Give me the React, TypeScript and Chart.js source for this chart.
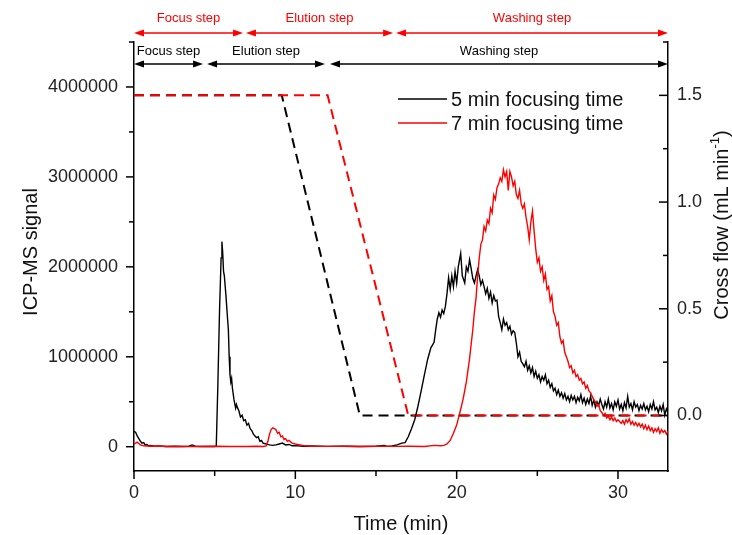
import React, { useEffect, useRef } from 'react';
import { Chart, registerables } from 'chart.js';

Chart.register(...registerables);

// ---------- DATA ----------
// ICP-MS signal, 5 min focusing time (time in min, signal in thousands of counts)
const sig5T = [0, 0.1, 0.2, 0.3, 0.4, 0.5, 0.6, 0.7, 0.8, 0.9, 1.0, 1.3, 1.6, 2.0, 2.5, 3.0, 3.4, 3.6, 3.8, 4.2, 4.6, 5.0,
  5.1, 5.2, 5.3, 5.4, 5.45, 5.5, 5.55, 5.6, 5.7, 5.8, 5.85, 5.9, 5.95, 6.0, 6.05, 6.1, 6.2, 6.3, 6.35, 6.4, 6.5, 6.6, 6.7, 6.8, 6.9,
  7.0, 7.1, 7.2, 7.3, 7.4, 7.5, 7.6, 7.7, 7.8, 7.9, 8.0, 8.2, 8.4, 8.6, 8.8, 9.0, 9.2, 9.4, 9.6, 9.8, 10.0, 10.5, 11, 12, 13, 14,
  15, 15.5, 15.7, 16.0, 16.3, 16.6, 16.8, 17.0, 17.2, 17.4, 17.6, 17.8, 18.0, 18.2, 18.4, 18.6, 18.7, 18.8, 18.9, 19.0, 19.1, 19.2,
  19.3, 19.4, 19.5, 19.6, 19.7, 19.8, 19.9, 20.0, 20.1, 20.25, 20.35, 20.5, 20.6, 20.7, 20.8, 20.9, 21.0, 21.1, 21.2, 21.3, 21.4,
  21.5, 21.6, 21.7, 21.8, 21.9, 22.0, 22.1, 22.2, 22.3, 22.4, 22.5, 22.6, 22.7, 22.8, 22.9, 23.0, 23.1, 23.2, 23.3, 23.4, 23.5,
  23.6, 23.7, 23.8, 23.9, 24.0, 24.1, 24.2, 24.3, 24.4, 24.5, 24.6, 24.7, 24.8, 24.9, 25.0, 25.1, 25.2, 25.3, 25.4, 25.5, 25.6,
  25.7, 25.8, 25.9, 26.0, 26.1, 26.2, 26.3, 26.4, 26.5, 26.6, 26.7, 26.8, 26.9, 27.0, 27.1, 27.2, 27.3, 27.4, 27.5, 27.6, 27.7,
  27.8, 27.9, 28.0, 28.1, 28.2, 28.3, 28.4, 28.5, 28.6, 28.7, 28.8, 28.9, 29.0, 29.1, 29.2, 29.3, 29.4, 29.5, 29.6, 29.7, 29.8,
  29.9, 30.0, 30.1, 30.2, 30.3, 30.4, 30.5, 30.6, 30.7, 30.8, 30.9, 31.0, 31.1, 31.2, 31.3, 31.4, 31.5, 31.6, 31.7, 31.8, 31.9,
  32.0, 32.1, 32.2, 32.3, 32.4, 32.5, 32.6, 32.7, 32.8, 32.9, 33.0, 33.1];
const sig5V = [170, 160, 120, 90, 60, 40, 45, 20, 25, 10, 15, 5, 8, 3, 6, 2, 5, 20, 5, 3, 4, 2,
  10, 700, 1500, 2100, 2280, 2150, 1950, 1900, 1680, 1420, 1300, 1000, 800, 720, 760, 650, 520, 430, 470, 440, 400, 330, 350, 290, 300,
  240, 260, 200, 180, 140, 120, 100, 110, 60, 70, 40, 30, 20, 15, 20, 30, 40, 20, 25, 10, 12, 5, 8, 4, 6, 3,
  5, 15, 4, 8, 20, 40, 45, 110, 200, 300, 450, 620, 800, 970, 1100, 1160, 1300, 1420, 1490, 1440, 1520, 1480,
  1560, 1700, 1880, 1750, 1900, 1780, 1950, 1820, 2000, 2150, 1900, 1820, 2000, 1950, 2080, 1980, 1870, 1820, 1900, 1970, 1900,
  1800, 1850, 1780, 1700, 1760, 1650, 1720, 1600, 1680, 1620, 1630, 1450, 1380, 1300, 1420, 1350, 1380, 1300, 1340, 1250, 1290,
  1270, 1150, 1000, 1050, 950, 920, 890, 950, 850, 900, 820, 880, 780, 840, 760, 800, 720, 780, 740, 800, 700,
  740, 660, 700, 620, 650, 580, 630, 560, 600, 540, 590, 520, 560, 500, 570, 520, 560, 490, 550, 510, 580,
  490, 540, 470, 530, 480, 560, 460, 520, 440, 500, 460, 530, 470, 420, 500, 440, 530, 430, 480, 410, 500,
  450, 520, 420, 470, 400, 490, 430, 560, 440, 480, 410, 500, 440, 470, 400, 460, 420, 480, 410, 450, 390,
  470, 420, 500, 410, 440, 380, 450, 400, 470, 350, 420, 380];

// ICP-MS signal, 7 min focusing time (time in min, signal in thousands of counts)
const sig7T = [0, 0.2, 0.4, 0.6, 1.0, 1.5, 2.0, 3.0, 4.0, 5.0, 6.0, 7.0, 7.6, 8.0, 8.2, 8.3, 8.4, 8.5, 8.6, 8.7, 8.8, 8.9, 9.0,
  9.1, 9.2, 9.3, 9.4, 9.5, 9.6, 9.8, 10.0, 10.3, 10.6, 11, 12, 13, 14, 15, 16, 17, 18, 18.6, 19.0, 19.2, 19.4, 19.6, 19.8,
  20.0, 20.2, 20.4, 20.6, 20.8, 21.0, 21.1, 21.2, 21.3, 21.4, 21.5, 21.6, 21.7, 21.8, 21.9, 22.0, 22.1, 22.2, 22.3, 22.4,
  22.5, 22.6, 22.7, 22.8, 22.9, 23.0, 23.1, 23.2, 23.3, 23.4, 23.5, 23.6, 23.7, 23.8, 23.9, 24.0, 24.1, 24.2, 24.3, 24.4,
  24.5, 24.6, 24.7, 24.8, 24.9, 25.0, 25.1, 25.2, 25.3, 25.4, 25.5, 25.6, 25.7, 25.8, 25.9, 26.0, 26.1, 26.2, 26.3, 26.4,
  26.5, 26.6, 26.7, 26.8, 26.9, 27.0, 27.1, 27.2, 27.3, 27.4, 27.5, 27.6, 27.7, 27.8, 27.9, 28.0, 28.1, 28.2, 28.3, 28.4,
  28.5, 28.6, 28.7, 28.8, 28.9, 29.0, 29.1, 29.2, 29.3, 29.4, 29.5, 29.6, 29.7, 29.8, 29.9, 30.0, 30.2, 30.3, 30.4, 30.5,
  30.6, 30.7, 30.8, 30.9, 31.0, 31.1, 31.2, 31.3, 31.4, 31.5, 31.6, 31.7, 31.8, 31.9, 32.0, 32.1, 32.2, 32.3, 32.4, 32.5,
  32.6, 32.7, 32.8, 32.9, 33.0, 33.1];
const sig7V = [30, 50, 20, 10, 5, 8, 2, 4, 2, 5, 3, 2, 6, 3, 10, 60, 140, 190, 210, 200, 190, 150, 160,
  110, 120, 80, 90, 60, 70, 40, 30, 20, 10, 5, 4, 6, 3, 5, 4, 6, 3, 15, 10, 15, 30, 70, 150,
  240, 380, 530, 720, 980, 1300, 1500, 1650, 1900, 2100, 2250, 2300, 2450, 2400, 2520, 2480, 2650, 2600, 2800, 2750,
  2880, 2920, 2990, 2950, 3080, 3000, 3060, 2850, 3060, 3000, 2900, 2950, 2800, 2760, 2850, 2700, 2650, 2700, 2550, 2450,
  2300, 2500, 2620, 2400, 2200, 2050, 2100, 1950, 2000, 1850, 1920, 1750, 1780, 1620, 1680, 1500, 1450, 1350, 1380, 1220,
  1150, 1180, 1050, 1000, 950, 880, 900, 820, 850, 780, 800, 740, 760, 700, 720, 650, 680, 620, 600, 560,
  520, 500, 450, 470, 400, 380, 350, 370, 320, 340, 300, 330, 290, 320, 280, 300, 260, 290, 250, 300,
  270, 310, 250, 280, 240, 270, 230, 260, 220, 250, 200, 240, 190, 230, 180, 210, 160, 200, 170, 210,
  150, 190, 160, 180, 140, 170];

// Cross flow (mL/min)
const flow5T = [0, 9.16, 14.0, 33.1];
const flow5V = [1.5, 1.5, 0, 0];
const flow7T = [0, 12.0, 17.0, 33.1];
const flow7V = [1.5, 1.5, 0, 0];

// Axis ticks
const xMajor = [0, 10, 20, 30];
const xMinor = [5, 15, 25];
const yMajor = [0, 1000000, 2000000, 3000000, 4000000];
const yMinor = [500000, 1500000, 2500000, 3500000, 4500000];
const y1Major = [0, 0.5, 1.0, 1.5];
const y1Minor = [0.25, 0.75, 1.25, 1.75];

// Labels
const seriesNames = ['5 min focusing time', '7 min focusing time'];
const stepNames = ['Focus step', 'Elution step', 'Washing step'];
const steps5Start = [0, 4.53, 12.15];
const steps5End = [4.28, 11.84, 33.1];
const steps7Start = [0, 6.94, 16.24];
const steps7End = [6.76, 16.06, 33.1];

const FONT = "'Liberation Sans', Arial, Helvetica, sans-serif";
const RED = '#ff0000';
const BLACK = '#000000';

const zip = (t: number[], v: number[], k = 1) => t.map((x, i) => ({ x, y: v[i] * k }));

function drawArrow(ctx: CanvasRenderingContext2D, x1: number, x2: number, y: number, color: string) {
  const hl = 10, hw = 3.5;
  ctx.strokeStyle = color;
  ctx.fillStyle = color;
  ctx.lineWidth = 1.3;
  ctx.beginPath();
  ctx.moveTo(x1 + 4, y);
  ctx.lineTo(x2 - 4, y);
  ctx.stroke();
  ctx.beginPath();
  ctx.moveTo(x1, y);
  ctx.lineTo(x1 + hl, y - hw);
  ctx.lineTo(x1 + hl, y + hw);
  ctx.closePath();
  ctx.fill();
  ctx.beginPath();
  ctx.moveTo(x2, y);
  ctx.lineTo(x2 - hl, y - hw);
  ctx.lineTo(x2 - hl, y + hw);
  ctx.closePath();
  ctx.fill();
}

const overlay = {
  id: 'overlay',
  afterDraw(chart: any) {
    const ctx: CanvasRenderingContext2D = chart.ctx;
    const xs = chart.scales.x, ys = chart.scales.y, y1s = chart.scales.y1;
    const { left, right, top, bottom } = chart.chartArea;
    ctx.save();
    ctx.strokeStyle = BLACK;
    ctx.lineWidth = 1.5;
    const seg = (a: number, b: number, c: number, d: number) => {
      ctx.beginPath(); ctx.moveTo(a, b); ctx.lineTo(c, d); ctx.stroke();
    };
    // x ticks (outward)
    xMajor.forEach(v => { const p = xs.getPixelForValue(v); seg(p, bottom, p, bottom + 8); });
    xMinor.forEach(v => { const p = xs.getPixelForValue(v); seg(p, bottom, p, bottom + 5); });
    // left y ticks (outward)
    yMajor.forEach(v => { const p = ys.getPixelForValue(v); seg(left - 8, p, left, p); });
    yMinor.forEach(v => { const p = ys.getPixelForValue(v); seg(left - 5, p, left, p); });
    // right y ticks (inward)
    y1Major.forEach(v => { const p = y1s.getPixelForValue(v); seg(right - 9, p, right, p); });
    y1Minor.forEach(v => { const p = y1s.getPixelForValue(v); seg(right - 5, p, right, p); });

    // step arrows
    ctx.textAlign = 'center';
    ctx.textBaseline = 'middle';
    ctx.font = `13px ${FONT}`;
    for (let i = 0; i < stepNames.length; i++) {
      const a = xs.getPixelForValue(steps7Start[i]);
      const b = xs.getPixelForValue(steps7End[i]);
      drawArrow(ctx, a, b, 33, RED);
      ctx.fillStyle = RED;
      ctx.fillText(stepNames[i], (a + b) / 2, 18);
      const c = xs.getPixelForValue(steps5Start[i]);
      const d = xs.getPixelForValue(steps5End[i]);
      drawArrow(ctx, c, d, 64, BLACK);
      ctx.fillStyle = BLACK;
      ctx.fillText(stepNames[i], (c + d) / 2, 51);
    }

    // legend
    const legColors = [BLACK, RED];
    const legY = [99, 123];
    ctx.font = `20px ${FONT}`;
    ctx.textAlign = 'left';
    for (let i = 0; i < seriesNames.length; i++) {
      ctx.strokeStyle = legColors[i];
      ctx.lineWidth = 1.6;
      seg(398, legY[i], 447, legY[i]);
      ctx.fillStyle = '#111';
      ctx.fillText(seriesNames[i], 451, legY[i] + 1);
    }

    // axis titles
    ctx.fillStyle = '#111';
    ctx.font = `20px ${FONT}`;
    ctx.textAlign = 'center';
    ctx.fillText('Time (min)', (left + right) / 2 - 0, 524);

    ctx.save();
    ctx.translate(31, 252);
    ctx.rotate(-Math.PI / 2);
    ctx.fillText('ICP-MS signal', 0, 0);
    ctx.restore();

    ctx.save();
    ctx.translate(722, 225);
    ctx.rotate(-Math.PI / 2);
    ctx.textAlign = 'left';
    const mainFont = `20px ${FONT}`;
    const supFont = `13px ${FONT}`;
    const p1 = 'Cross flow (mL min';
    const p2 = '-1';
    const p3 = ')';
    ctx.font = mainFont;
    const w1 = ctx.measureText(p1).width;
    const w3 = ctx.measureText(p3).width;
    ctx.font = supFont;
    const w2 = ctx.measureText(p2).width;
    let x0 = -(w1 + w2 + w3) / 2;
    ctx.font = mainFont;
    ctx.fillText(p1, x0, 0);
    x0 += w1;
    ctx.font = supFont;
    ctx.fillText(p2, x0, -7);
    x0 += w2;
    ctx.font = mainFont;
    ctx.fillText(p3, x0, 0);
    ctx.restore();

    ctx.restore();
  },
};

export default function App() {
  const ref = useRef<HTMLCanvasElement | null>(null);
  useEffect(() => {
    document.body.style.margin = '0';
    document.body.style.overflow = 'hidden';
    const canvas = ref.current;
    if (!canvas) return;
    const tickFont = { family: FONT, size: 18 };
    const chart = new Chart(canvas, {
      type: 'line',
      data: {
        datasets: [
          {
            label: seriesNames[1], data: zip(sig7T, sig7V, 1000), yAxisID: 'y',
            borderColor: RED, borderWidth: 1.4, pointRadius: 0, tension: 0, fill: false, order: 0,
          },
          {
            label: seriesNames[0], data: zip(sig5T, sig5V, 1000), yAxisID: 'y',
            borderColor: BLACK, borderWidth: 1.4, pointRadius: 0, tension: 0, fill: false, order: 1,
          },
          {
            label: 'flow7', data: zip(flow7T, flow7V), yAxisID: 'y1',
            borderColor: RED, borderWidth: 2, borderDash: [10, 6], pointRadius: 0, tension: 0, fill: false, order: 2,
          },
          {
            label: 'flow5', data: zip(flow5T, flow5V), yAxisID: 'y1',
            borderColor: BLACK, borderWidth: 2, borderDash: [10, 6], pointRadius: 0, tension: 0, fill: false, order: 3,
          },
        ],
      },
      options: {
        responsive: false,
        maintainAspectRatio: false,
        animation: false,
        layout: { padding: { top: 42, left: 0, right: 0, bottom: 0 } },
        plugins: { legend: { display: false }, tooltip: { enabled: false }, title: { display: false } },
        scales: {
          x: {
            type: 'linear', min: 0, max: 33.1,
            afterBuildTicks: (s: any) => { s.ticks = xMajor.map(v => ({ value: v })); },
            afterFit: (s: any) => { s.height = 64; },
            ticks: { font: tickFont, color: '#222', padding: 11, maxRotation: 0, autoSkip: false, callback: (v: any) => String(v) },
            grid: { display: false, drawTicks: false },
            border: { display: true, color: BLACK, width: 1.5 },
          },
          y: {
            type: 'linear', position: 'left', min: -270000, max: 4500000,
            afterBuildTicks: (s: any) => { s.ticks = yMajor.map(v => ({ value: v })); },
            afterFit: (s: any) => { s.width = 134; },
            ticks: { font: tickFont, color: '#222', padding: 16, autoSkip: false, callback: (v: any) => String(v) },
            grid: { display: false, drawTicks: false },
            border: { display: true, color: BLACK, width: 1.5 },
          },
          y1: {
            type: 'linear', position: 'right', min: -0.26, max: 1.75,
            afterBuildTicks: (s: any) => { s.ticks = y1Major.map(v => ({ value: v })); },
            afterFit: (s: any) => { s.width = 64; },
            ticks: { font: tickFont, color: '#222', padding: 9, autoSkip: false, callback: (v: any) => Number(v).toFixed(1) },
            grid: { display: false, drawTicks: false },
            border: { display: true, color: BLACK, width: 1.5 },
          },
        },
      },
      plugins: [overlay],
    } as any);
    return () => chart.destroy();
  }, []);
  return (
    <div style={{ width: 732, height: 535, background: '#fff' }}>
      <canvas ref={ref} width={732} height={535} style={{ display: 'block', width: 732, height: 535 }} />
    </div>
  );
}
